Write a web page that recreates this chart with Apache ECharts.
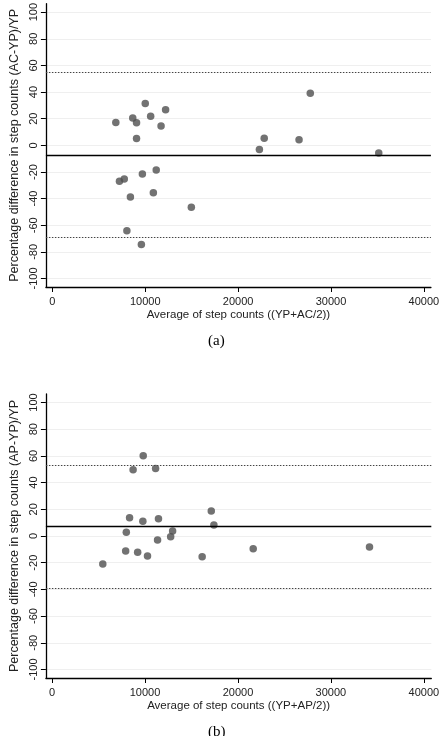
<!DOCTYPE html>
<html><head><meta charset="utf-8">
<script src="https://cdn.jsdelivr.net/npm/echarts@6/dist/echarts.min.js"></script>
<style>html,body{margin:0;padding:0;background:#fff}#c{width:442px;height:736px}</style>
</head><body><div id="c"></div>
<script>
// Tick values
const xTicks = [0, 10000, 20000, 30000, 40000];
const yTicks = [-100, -80, -60, -40, -20, 0, 20, 40, 60, 80, 100];

// Panel (a): AC vs YP
const avgA  = [6830, 8650, 9060, 10000, 10580, 12190, 11700, 9060, 7220, 7740, 9690, 11180, 8400, 10870, 14960, 8020, 9580, 22290, 22810, 26560, 35140, 27770];
const diffA = [17.1, 20.6, 16.9, 31.5, 21.8, 26.8, 14.6, 5.1, -26.9, -25.2, -21.5, -18.5, -38.9, -35.6, -46.5, -64.2, -74.4, -3.1, 5.4, 4.2, -5.8, 39.2];
const meanA = -7.2, upperA = 54.6, lowerA = -68.9;

// Panel (b): AP vs YP
const avgB  = [9810, 8720, 11140, 8340, 9770, 11450, 17130, 17410, 7990, 12970, 12760, 11350, 7920, 9210, 10270, 16150, 5460, 21640, 34150];
const diffB = [60.2, 49.7, 50.5, 13.7, 11.0, 13.0, 18.8, 8.3, 2.8, 3.75, -0.5, -3.0, -11.3, -12.2, -15.0, -15.5, -21.0, -9.5, -8.3];
const meanB = 7.5, upperB = 53.3, lowerB = -39.0;

const FONT = 'Liberation Sans, Arial, sans-serif';
const TXT = '#222';

function xAx(grid, min, max, name) {
  return {
    type: 'value', gridIndex: grid, min: min, max: max,
    name: name, nameLocation: 'middle', nameGap: 22,
    nameTextStyle: {fontFamily: FONT, fontSize: 11.5, color: TXT},
    axisLine: {show: true, onZero: false, lineStyle: {color: '#000', width: 1.3}},
    axisTick: {show: true, length: 5, customValues: xTicks, lineStyle: {color: '#000', width: 1}},
    axisLabel: {customValues: xTicks, formatter: v => String(v), fontFamily: FONT, fontSize: 11, color: TXT, margin: 9},
    splitLine: {show: false}
  };
}
function yAx(grid, name) {
  return {
    type: 'value', gridIndex: grid, min: -106.4, max: 106.4,
    name: name, nameLocation: 'middle', nameGap: 20,
    nameTextStyle: {fontFamily: FONT, fontSize: 12.5, color: TXT},
    axisLine: {show: true, onZero: false, lineStyle: {color: '#000', width: 1.3}},
    axisTick: {show: true, length: 5, customValues: yTicks, lineStyle: {color: '#000', width: 1}},
    axisLabel: {customValues: yTicks, formatter: v => String(v), rotate: 90, fontFamily: FONT, fontSize: 11, color: TXT, margin: 6},
    splitLine: {show: true, lineStyle: {color: '#efefef', width: 1}}
  };
}
function scatter(idx, xs, ys, mean, up, lo) {
  return {
    type: 'scatter', xAxisIndex: idx, yAxisIndex: idx,
    data: xs.map((x, i) => [x, ys[i]]),
    symbol: 'circle', symbolSize: 7.5,
    itemStyle: {color: '#4f4f4f'},
    silent: true,
    markLine: {
      silent: true, symbol: 'none', label: {show: false}, animation: false,
      data: [
        {yAxis: mean, lineStyle: {type: 'solid', color: '#000', width: 1.3}},
        {yAxis: up, lineStyle: {type: [1.5, 1.5], color: '#444', width: 1}},
        {yAxis: lo, lineStyle: {type: [1.5, 1.5], color: '#444', width: 1}}
      ]
    }
  };
}

const chart = echarts.init(document.getElementById('c'), null, {renderer: 'canvas'});
chart.setOption({
  animation: false,
  backgroundColor: '#fff',
  title: [
    {text: '(a)', left: 208, top: 334, padding: 0, textStyle: {fontFamily: 'Liberation Serif, Times New Roman, serif', fontSize: 15, fontWeight: 'normal', color: '#000'}},
    {text: '(b)', left: 208, top: 725, padding: 0, textStyle: {fontFamily: 'Liberation Serif, Times New Roman, serif', fontSize: 15, fontWeight: 'normal', color: '#000'}}
  ],
  grid: [
    {left: 37, top: 2, width: 398, height: 285, containLabel: false},
    {left: 37, top: 394, width: 395, height: 284, containLabel: false}
  ],
  xAxis: [
    xAx(0, -700, 40760, 'Average of step counts ((YP+AC/2))'),
    xAx(1, -660, 40800, 'Average of step counts ((YP+AP/2))')
  ],
  yAxis: [
    yAx(0, 'Percentage difference in step counts (AC-YP)/YP'),
    yAx(1, 'Percentage difference in step counts (AP-YP)/YP')
  ],
  series: [
    scatter(0, avgA, diffA, meanA, upperA, lowerA),
    scatter(1, avgB, diffB, meanB, upperB, lowerB)
  ]
});
</script>
</body></html>
